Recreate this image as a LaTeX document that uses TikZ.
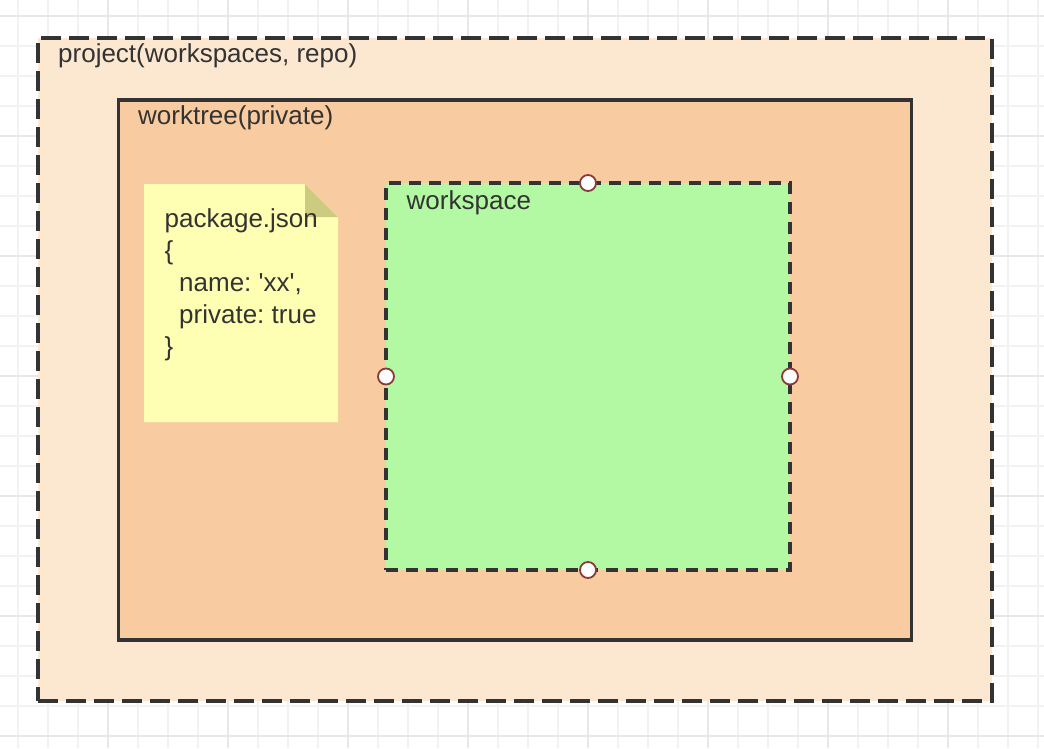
\documentclass[tikz,border=0pt]{standalone}
\usepackage{fontspec}
\setsansfont{Liberation Sans}
\usetikzlibrary{shapes, positioning}
\tikzset{every picture/.style={/utils/exec={\sffamily\frenchspacing}}}
\definecolor{MyGrid}{HTML}{F2F2F2}
\definecolor{MyGridMajor}{HTML}{E8E8E8}
\definecolor{MyLine}{HTML}{333333}
\definecolor{MyProject}{HTML}{FCE7D1}
\definecolor{MyTree}{HTML}{F8CCA0}
\definecolor{MyNote}{HTML}{FFFFB3}
\definecolor{MyFold}{HTML}{CCCC80}
\definecolor{MyWork}{HTML}{B3F9A3}
\definecolor{MyPort}{HTML}{8B3A3A}

\begin{document}
\begin{tikzpicture}[x=1pt,y=-1pt,
			every node/.style={text=MyLine, font=\fontsize{26}{32}\selectfont},
			box/.style={draw=MyLine,rectangle,line width=3.6pt,anchor=north west,inner sep=0pt,outer sep=0pt},
			title/.style={anchor=base west,inner sep=0pt},
			port/.style={circle,draw=MyPort,fill=white,line width=1.8pt,minimum size=16pt,inner sep=0pt}
		]
		\useasboundingbox (0,0) rectangle (1044,748);
		% grid
		\fill[white] (0,0) rectangle (1044,748);
		\foreach \x in {18,48,...,1038}
			\draw[MyGrid,line width=1.5pt] (\x,0) -- (\x,748);
		\foreach \y in {16,46,...,746}
			\draw[MyGrid,line width=1.5pt] (0,\y) -- (1044,\y);
		\foreach \x in {108,228,...,1038}
			\draw[MyGridMajor,line width=2pt] (\x,0) -- (\x,748);
		\foreach \y in {16,136,...,746}
			\draw[MyGridMajor,line width=2pt] (0,\y) -- (1044,\y);
		% boxes
		\node (project) [box,fill=MyProject,dash pattern=on 20pt off 8pt,
			minimum width=954pt,minimum height=663pt] at (38,38) {};
		\node (projectTitle) [title,xshift=20pt,yshift=-24pt] at (project.north west)
			{project(workspaces, repo)};
		\node (worktree) [box,fill=MyTree,minimum width=793pt,minimum height=540pt] at (118.5,100) {};
		\node (worktreeTitle) [title,xshift=19.5pt,yshift=-24pt] at (worktree.north west)
			{worktree(private)};
		% note
		\node (note) [rectangle,anchor=north west,inner sep=0pt,outer sep=0pt,
			minimum width=194pt,minimum height=238pt] at (144,184) {};
		\fill[MyNote] (note.north west) -- ([xshift=-33pt]note.north east)
			-- ([yshift=-33pt]note.north east) -- (note.south east) -- (note.south west) -- cycle;
		\fill[MyFold] ([xshift=-33pt]note.north east) -- ([xshift=-33pt,yshift=-33pt]note.north east)
			-- ([yshift=-33pt]note.north east) -- cycle;
		\node (noteText) [title,xshift=20.5pt,yshift=-43pt] at (note.north west)
		{
			\begin{minipage}[t]{170pt}
				package.json\\
				\{\\
				\hspace*{14.5pt}name: \textquotesingle xx\textquotesingle,\\
				\hspace*{14.5pt}private: true\\
				\}
			\end{minipage}};
		% workspace
		\node (workspace) [box,fill=MyWork,dash pattern=on 12pt off 8pt,
			minimum width=404pt,minimum height=387pt] at (386,183) {};
		\node (workspaceTitle) [title,xshift=20.5pt,yshift=-26pt] at (workspace.north west)
			{workspace};
		\node (portN) [port] at (workspace.north) {};
		\node (portS) [port] at (workspace.south) {};
		\node (portW) [port] at (workspace.west) {};
		\node (portE) [port] at (workspace.east) {};
	\end{tikzpicture}
\end{document}
